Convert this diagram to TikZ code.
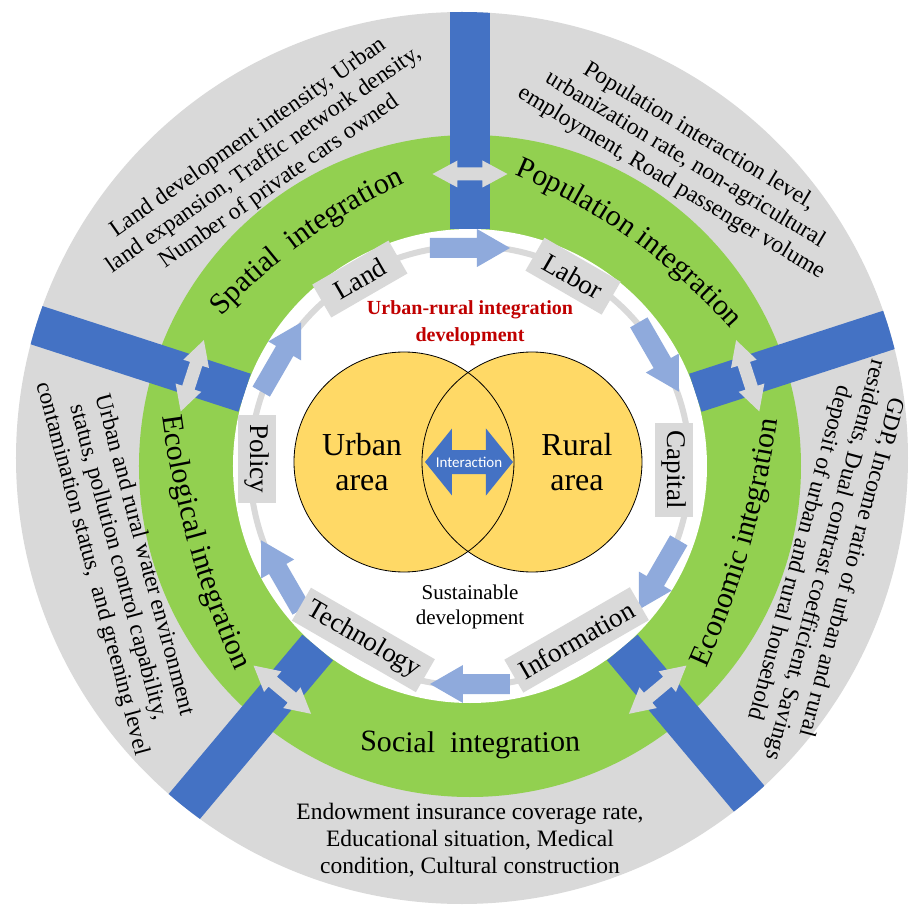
\documentclass[tikz,border=0pt]{standalone}
\usepackage{fontspec}
\setmainfont{Liberation Serif}
\newfontfamily\calibrifont{Carlito}
\usetikzlibrary{decorations.text}

\definecolor{ringgray}{HTML}{D9D9D9}
\definecolor{ringgreen}{HTML}{92D050}
\definecolor{barblue}{HTML}{4472C4}
\definecolor{flowblue}{HTML}{8FAADC}
\definecolor{vennyellow}{HTML}{FFD966}
\definecolor{titlered}{HTML}{C00000}

\newcommand\ringfont{\fontsize{30}{30}\selectfont}
% #1 angle, #2 baseline radius, #3 curvature radius, #4 start offset, #5 end offset, #6 text
\newcommand\ringlabel[6]{%
  \path[shift={(#1:#2-#3)}, decorate,
        decoration={text along path, text align=center, text={|\ringfont|#6}}]
    (#1+#4:#3) arc[start angle=#1+#4, end angle=#1+#5, radius=#3];}

\tikzset{
  bar/.style={fill=barblue},
  exchangefill/.style={fill=ringgray},
  flowfill/.style={fill=flowblue},
  exchangearrow/.pic={\fill[exchangefill] (-37.5,0) -- (-12.5,13.5) -- (-12.5,6.5) -- (12.5,6.5)
      -- (12.5,13.5) -- (37.5,0) -- (12.5,-13.5) -- (12.5,-6.5) -- (-12.5,-6.5) -- (-12.5,-13.5) -- cycle;},
  flowarrow/.pic={\fill[flowfill] (-40,-10) -- (7,-10) -- (7,-19) -- (40,0) -- (7,19) -- (7,10)
      -- (-40,10) -- cycle;},
  factor/.style={fill=ringgray, font=\fontsize{27}{27}\selectfont, minimum height=38pt,
      minimum width=88pt, inner xsep=8pt, inner ysep=0pt},
  outernote/.style={align=center, font=\fontsize{23.5}{27}\selectfont, inner sep=0pt},
  areaname/.style={align=center, font=\fontsize{32}{35}\selectfont, inner sep=0pt},
}

\begin{document}
\begin{tikzpicture}[x=1pt,y=1pt]
\useasboundingbox (-470,-442) rectangle (441,466);
\clip (-470,-442) rectangle (441,466);
\fill[white] (-470,-442) rectangle (441,466);

% rings
\fill[ringgray] (-8,8) circle[radius=446];
\fill[ringgreen] (0,0) circle[radius=331];
\fill[white] (0,0) circle[radius=237];

% radial bars, ending at the rim of the gray disc
\begin{scope}
  \clip (-8,8) circle[radius=446];
  \foreach \a in {90,162,18,230,310}{
    \fill[bar, rotate=\a] (237,-20) rectangle (460,20);
  }
\end{scope}
% exchange arrows across the bars
\foreach \a in {90,162,18,230,310}{
  \pic[rotate=\a+90] at (\a:292) {exchangearrow};
}

% dimension labels in the green ring
\ringlabel{126}{278}{600}{40}{-40}{Spatial{\ \ }integration}
\ringlabel{54.5}{278}{600}{40}{-40}{Population integration}
\ringlabel{-16}{292}{900}{-27}{27}{Economic integration}
\ringlabel{-90}{287}{3000}{-8}{8}{Social{\ \ }integration}
\ringlabel{196}{292}{900}{-27}{27}{Ecological integration}

% indicator notes in the gray ring
\node[outernote, rotate=35] (spatialnote) at (-206,306)
  {Land development intensity, Urban\\land expansion, Traffic network density,\\Number of private cars owned};
\node[outernote, rotate=-31] (populationnote) at (215,306)
  {Population interaction level,\\urbanization rate, non-agricultural\\employment, Road passenger volume};
\node[outernote, rotate=-105] (economicnote) at (355,-94)
  {GDP, Income ratio of urban and rural\\residents, Dual contrast coefficient, Savings\\deposit of urban and rural household};
\node[outernote] (socialnote) at (0,-374)
  {Endowment insurance coverage rate,\\Educational situation, Medical\\condition, Cultural construction};
\node[outernote, rotate=-75] (ecologicalnote) at (-352,-96)
  {Urban and rural water environment\\status, pollution control capability,\\contamination status,~ and greening level};

% factor cycle
\draw[ringgray, line width=6pt] (0,0) circle[radius=220];
\foreach \a in {90,30,-30,-90,-150,150}{
  \pic[rotate=\a-90] at (\a:218) {flowarrow};
}
\node[factor, rotate=30] (land) at (120.5:217) {Land};
\node[factor, rotate=-30] (labor) at (61.5:216) {Labor};
\node[factor, rotate=-90] (capital) at (-1:204) {Capital};
\node[factor, rotate=30] (information) at (-58.5:204) {Information};
\node[factor, rotate=-30] (technology) at (238.5:204) {Technology};
\node[factor, rotate=-90] (policy) at (178:213) {Policy};

% urban and rural areas
\fill[vennyellow] (-66,4) circle[radius=110];
\fill[vennyellow] (62,4) circle[radius=110];
\draw[line width=0.8pt] (-66,4) circle[radius=110];
\draw[line width=0.8pt] (62,4) circle[radius=110];
\fill[barblue, shift={(-1,4)}] (-44,0) -- (-17,33.5) -- (-17,12) -- (17,12) -- (17,33.5) -- (44,0)
  -- (17,-33.5) -- (17,-12) -- (-17,-12) -- (-17,-33.5) -- cycle;
\node[text=white, font=\calibrifont\fontsize{15}{15}\selectfont, inner sep=0pt] (interaction) at (-1,4) {Interaction};
\node[areaname] (urban) at (-108,4) {Urban\\area};
\node[areaname] (rural) at (107,4) {Rural\\area};

\node[text=titlered, align=center, font=\bfseries\fontsize{20}{27}\selectfont, inner sep=0pt] (title) at (0,143)
  {Urban-rural integration\\development};
\node[align=center, font=\fontsize{21}{25}\selectfont, inner sep=0pt] (sustain) at (0,-141)
  {Sustainable\\development};
\end{tikzpicture}
\end{document}
